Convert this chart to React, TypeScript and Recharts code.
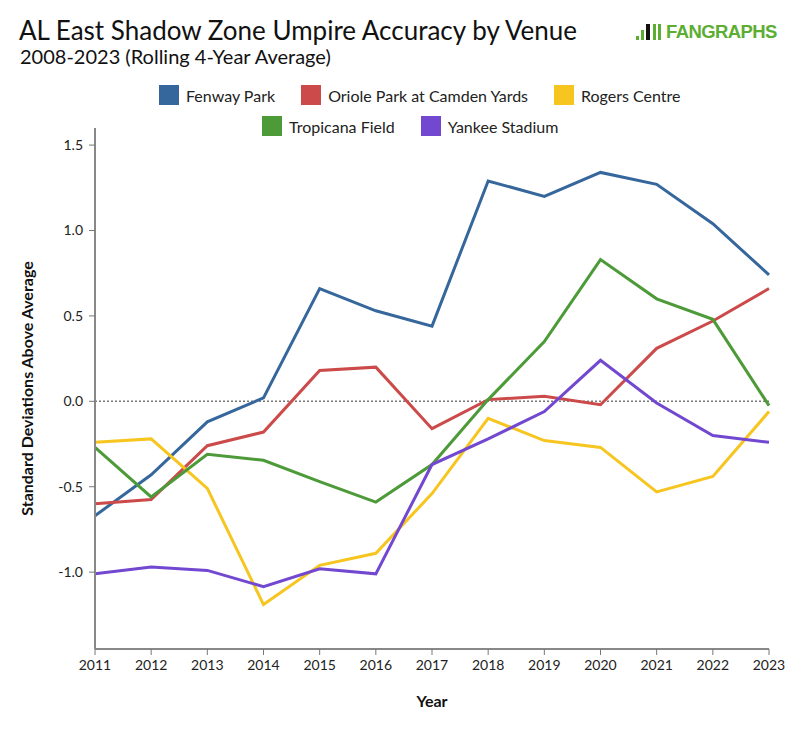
import React from "react";
import { Line, LineChart, ReferenceLine, XAxis, YAxis } from "recharts";

const years = [2011, 2012, 2013, 2014, 2015, 2016, 2017, 2018, 2019, 2020, 2021, 2022, 2023];
const fenway = [-0.67, -0.43, -0.12, 0.02, 0.66, 0.53, 0.44, 1.29, 1.2, 1.34, 1.27, 1.04, 0.74];
const oriole = [-0.6, -0.575, -0.26, -0.18, 0.18, 0.2, -0.16, 0.01, 0.03, -0.02, 0.31, 0.47, 0.66];
const rogers = [-0.24, -0.22, -0.51, -1.19, -0.96, -0.89, -0.54, -0.1, -0.23, -0.27, -0.53, -0.44, -0.06];
const tropicana = [-0.27, -0.56, -0.31, -0.345, -0.47, -0.59, -0.37, 0.01, 0.35, 0.83, 0.6, 0.48, -0.025];
const yankee = [-1.01, -0.97, -0.99, -1.085, -0.98, -1.01, -0.37, -0.22, -0.06, 0.24, -0.01, -0.2, -0.24];
const yTicks = [-1, -0.5, 0, 0.5, 1, 1.5];

const SERIES = [
  { key: "fenway", name: "Fenway Park", color: "#36679c", values: fenway },
  { key: "oriole", name: "Oriole Park at Camden Yards", color: "#cc4a4a", values: oriole },
  { key: "rogers", name: "Rogers Centre", color: "#f7c520", values: rogers },
  { key: "tropicana", name: "Tropicana Field", color: "#4c9a38", values: tropicana },
  { key: "yankee", name: "Yankee Stadium", color: "#7248d0", values: yankee },
];

const rows = years.map((year, i) => {
  const row: Record<string, number> = { year };
  SERIES.forEach((s) => {
    row[s.key] = s.values[i];
  });
  return row;
});

const FONT = "Lato, 'Open Sans', sans-serif";

function LegendItem({ name, color }: { name: string; color: string }) {
  return (
    <div style={{ display: "flex", alignItems: "center", marginRight: 26 }}>
      <span style={{ width: 20, height: 20, background: color, marginRight: 7, display: "inline-block" }} />
      <span style={{ fontSize: 16, color: "#222" }}>{name}</span>
    </div>
  );
}

export default function App() {
  return (
    <div style={{ position: "absolute", left: 0, top: 0, width: 800, height: 730, background: "#fff", fontFamily: FONT }}>
      <div style={{ position: "absolute", left: 19, top: 14, fontSize: 26, color: "#111" }}>
        AL East Shadow Zone Umpire Accuracy by Venue
      </div>
      <div style={{ position: "absolute", left: 20, top: 44, fontSize: 20, color: "#111" }}>
        2008-2023 (Rolling 4-Year Average)
      </div>
      <div style={{ position: "absolute", left: 636, top: 21, display: "flex", alignItems: "center" }}>
        <svg width={30} height={20}>
          <rect x={0} y={14} width={3} height={4} fill="#5cae33" />
          <rect x={5} y={8} width={3} height={10} fill="#5cae33" />
          <rect x={10} y={2} width={4} height={16} fill="#111" />
          <rect x={17} y={2} width={3} height={16} fill="#5cae33" />
          <rect x={22} y={2} width={3} height={16} fill="#5cae33" />
        </svg>
        <span
          style={{
            fontFamily: "'Liberation Sans', Arial, sans-serif",
            fontWeight: 700,
            fontSize: 18.5,
            letterSpacing: -0.6,
            color: "#5cae33",
          }}
        >
          FANGRAPHS
        </span>
      </div>
      <div style={{ position: "absolute", left: 159, top: 85, display: "flex" }}>
        {SERIES.slice(0, 3).map((s) => (
          <LegendItem key={s.key} name={s.name} color={s.color} />
        ))}
      </div>
      <div style={{ position: "absolute", left: 262, top: 116, display: "flex" }}>
        {SERIES.slice(3).map((s) => (
          <LegendItem key={s.key} name={s.name} color={s.color} />
        ))}
      </div>
      <div style={{ position: "absolute", left: 0, top: 0 }}>
        <LineChart width={800} height={730} data={rows} margin={{ top: 128, right: 31, bottom: 23, left: 15 }}>
          <XAxis
            dataKey="year"
            type="number"
            domain={[2011, 2023]}
            ticks={years}
            height={58}
            axisLine={{ stroke: "#111" }}
            tickLine={{ stroke: "#777" }}
            tickSize={6}
            tickMargin={5}
            tick={{ fontSize: 14, fill: "#222", fontFamily: FONT }}
            label={{
              value: "Year",
              position: "insideBottom",
              offset: 0,
              style: { fontSize: 16, fontWeight: 700, fill: "#111", fontFamily: FONT },
            }}
          />
          <YAxis
            type="number"
            domain={[-1.45, 1.6]}
            ticks={yTicks}
            allowDataOverflow
            width={80}
            axisLine={{ stroke: "#888", strokeWidth: 2 }}
            tickLine={{ stroke: "#777" }}
            tickSize={6}
            tickMargin={6}
            tickFormatter={(v: number) => v.toFixed(1)}
            tick={{ fontSize: 14, fill: "#222", fontFamily: FONT }}
            label={{
              value: "Standard Deviations Above Average",
              angle: -90,
              position: "insideLeft",
              offset: 12,
              style: { textAnchor: "middle", fontSize: 16, fontWeight: 700, fill: "#111", fontFamily: FONT },
            }}
          />
          <ReferenceLine y={0} stroke="#777" strokeDasharray="2 2" strokeWidth={1.5} />
          {SERIES.map((s) => (
            <Line
              key={s.key}
              type="linear"
              dataKey={s.key}
              name={s.name}
              stroke={s.color}
              strokeWidth={3}
              dot={false}
              isAnimationActive={false}
            />
          ))}
        </LineChart>
      </div>
    </div>
  );
}
